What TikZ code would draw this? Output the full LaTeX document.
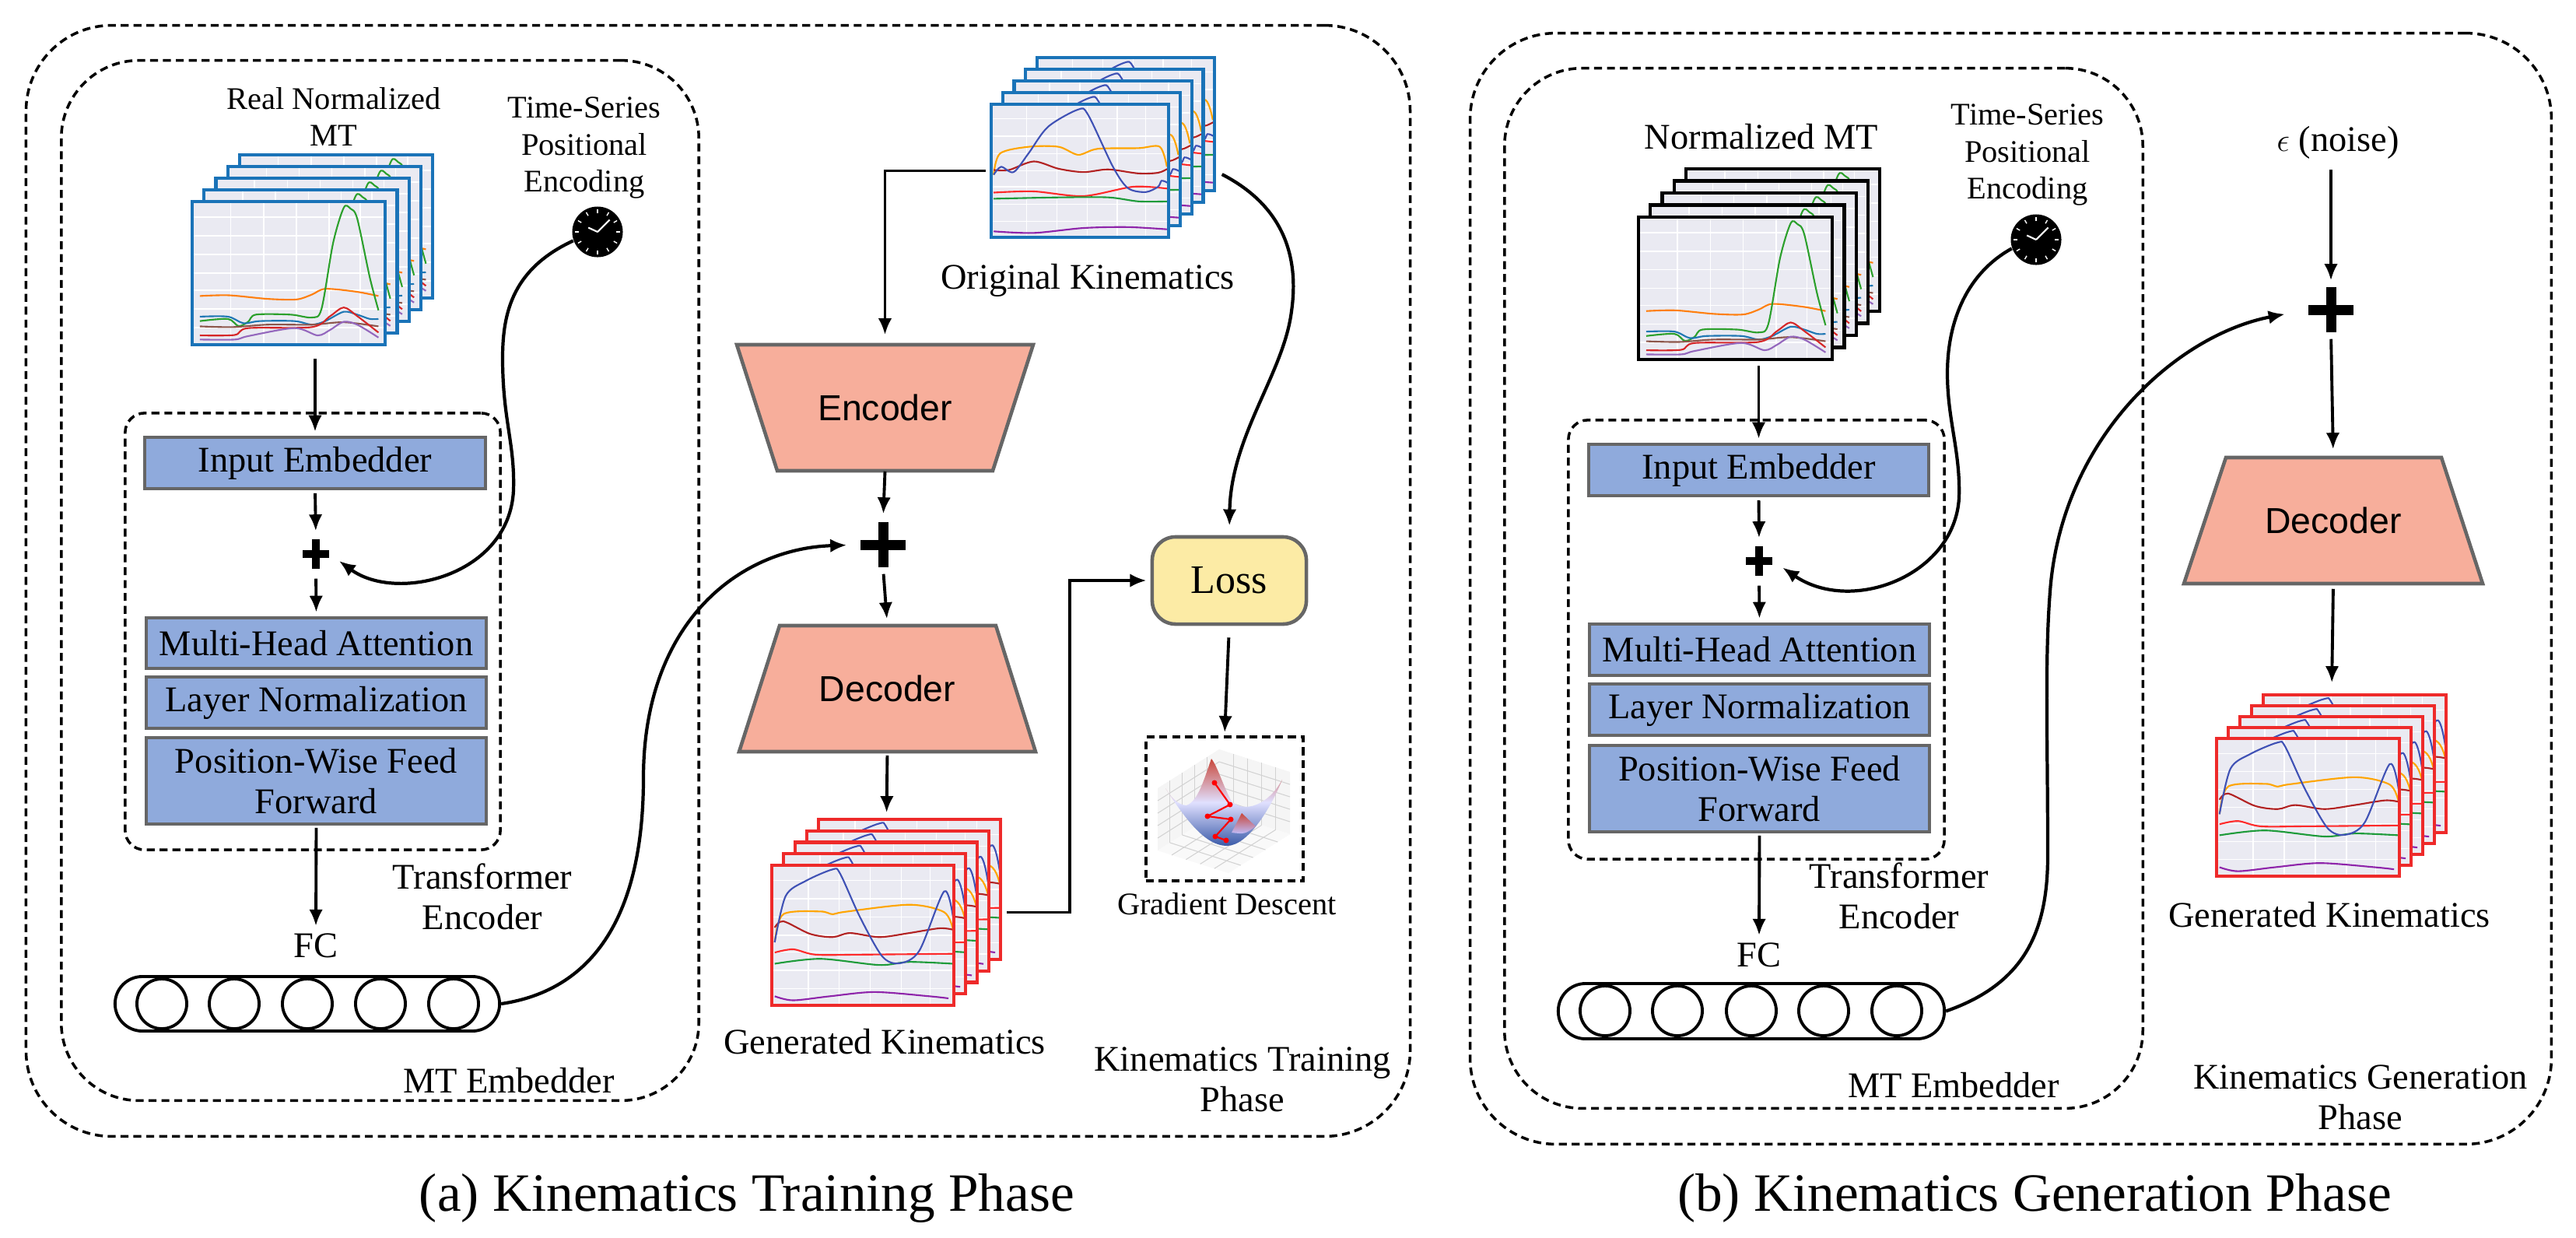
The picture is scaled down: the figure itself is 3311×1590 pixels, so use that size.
\documentclass[tikz,border=0pt]{standalone}
\usepackage{fontspec}
\setmainfont{Liberation Serif}
\newfontfamily\sansf{Liberation Sans}
\usetikzlibrary{arrows.meta,calc}
\definecolor{boxblue}{HTML}{8FAADC}
\definecolor{boxgray}{HTML}{666666}
\definecolor{trapfill}{HTML}{F7AE9B}
\definecolor{lossfill}{HTML}{FCEBA5}
\definecolor{plotbg}{HTML}{EAEAF2}
\definecolor{mtblue}{HTML}{1A73B8}
\definecolor{genred}{HTML}{EE2A2A}
\definecolor{cOr}{HTML}{FF7F0E}
\definecolor{cGr}{HTML}{2CA02C}
\definecolor{cBl}{HTML}{1F77B4}
\definecolor{cBr}{HTML}{8C564B}
\definecolor{cRd}{HTML}{D62728}
\definecolor{cPu}{HTML}{9467BD}
\definecolor{kBl}{HTML}{3F51B5}
\definecolor{kOr}{HTML}{FFA500}
\definecolor{kDr}{HTML}{B22222}
\definecolor{kRd}{HTML}{FF2A2A}
\definecolor{kGr}{HTML}{1E9B3A}
\definecolor{kPu}{HTML}{8E24AA}
\definecolor{gdRed}{HTML}{C8473A}
\definecolor{gdBlue}{HTML}{3B5BA9}
\newcommand\fsMain{\fontsize{13.2pt}{14.8pt}\selectfont}
\newcommand\fsSmall{\fontsize{11.5pt}{13.4pt}\selectfont}
\newcommand\fsCap{\fontsize{19.7pt}{23pt}\selectfont}
\newcommand\fsLoss{\fontsize{14.8pt}{17pt}\selectfont}
\newcommand\plotframe[6]{%
 \begin{scope}[shift={(#1,#2)}, x={(#3cm,0cm)}, y={(0cm,#4cm)}]
  \fill[plotbg] (0,0) rectangle (1,1);
  \foreach \gx in {.2,.37,.54,.71,.87} \draw[white, line width=0.4pt] (\gx,0) -- (\gx,1);
  \foreach \gy in {.12,.25,.38,.5,.63,.76,.89} \draw[white, line width=0.4pt] (0,\gy) -- (1,\gy);
  \begin{scope} \clip (0,0) rectangle (1,1); #6 \end{scope}
  \draw[#5, line width=1.2pt] (0,0) rectangle (1,1);
 \end{scope}}
\newcommand\mtcurves{%
 \draw[cOr, line width=0.6pt] plot[smooth,tension=0.5] coordinates {(.04,.34) (.19,.345) (.39,.32) (.54,.316) (.62,.35) (.69,.39) (.85,.37) (.965,.34)};
 \draw[cGr, line width=0.6pt] plot[smooth,tension=0.5] coordinates {(.04,.165) (.185,.18) (.24,.13) (.29,.16) (.33,.21) (.51,.21) (.62,.19) (.67,.25) (.73,.71) (.785,.956) (.82,.95) (.855,.88) (.92,.47) (.965,.24)};
 \draw[cBl, line width=0.6pt] plot[smooth,tension=0.5] coordinates {(.04,.196) (.185,.196) (.266,.15) (.35,.165) (.53,.165) (.62,.14) (.69,.165) (.785,.23) (.855,.21) (.92,.18) (.965,.18)};
 \draw[cBr, line width=0.6pt] plot[smooth,tension=0.5] coordinates {(.04,.128) (.21,.123) (.39,.14) (.62,.14) (.785,.157) (.965,.128)};
 \draw[cRd, line width=0.6pt] plot[smooth,tension=0.5] coordinates {(.04,.065) (.22,.068) (.29,.116) (.62,.123) (.715,.2) (.785,.26) (.855,.2) (.965,.085)};
 \draw[cPu, line width=0.6pt] plot[smooth,tension=0.5] coordinates {(.04,.036) (.22,.036) (.29,.06) (.53,.116) (.65,.065) (.715,.104) (.785,.16) (.855,.14) (.965,.05)};}
\newcommand\origcurves{%
 \draw[kOr, line width=0.6pt] plot[smooth,tension=0.5] coordinates {(.014,.47) (.05,.63) (.21,.68) (.38,.68) (.49,.62) (.6,.665) (.83,.67) (.95,.68) (.99,.53)};
 \draw[kDr, line width=0.6pt] plot[smooth,tension=0.5] coordinates {(.014,.506) (.1,.506) (.24,.57) (.38,.515) (.52,.49) (.66,.51) (.83,.48) (.94,.485) (.994,.515)};
 \draw[kRd, line width=0.6pt] plot[smooth,tension=0.5] coordinates {(.014,.336) (.24,.345) (.52,.31) (.8,.38) (.994,.366)};
 \draw[kGr, line width=0.6pt] plot[smooth,tension=0.5] coordinates {(.014,.29) (.38,.3) (.66,.3) (.83,.27) (.994,.27)};
 \draw[kPu, line width=0.6pt] plot[smooth,tension=0.5] coordinates {(.014,.045) (.24,.033) (.52,.07) (.77,.077) (.994,.06)};
 \draw[kBl, line width=0.6pt] plot[smooth,tension=0.5] coordinates {(.014,.47) (.056,.53) (.126,.49) (.21,.63) (.32,.83) (.49,.96) (.546,.92) (.686,.53) (.77,.37) (.87,.34) (.94,.38) (.96,.425) (.994,.41)};}
\newcommand\gencurves{%
 \draw[kOr, line width=0.6pt] plot[smooth,tension=0.5] coordinates {(.016,.45) (.063,.65) (.266,.67) (.334,.65) (.4,.667) (.755,.718) (.946,.665) (.995,.54)};
 \draw[kDr, line width=0.6pt] plot[smooth,tension=0.5] coordinates {(.016,.555) (.063,.6) (.21,.51) (.334,.487) (.43,.516) (.59,.487) (.755,.516) (.92,.55) (.995,.54)};
 \draw[kRd, line width=0.6pt] plot[smooth,tension=0.5] coordinates {(.016,.377) (.117,.4) (.24,.362) (.484,.362) (.995,.368)};
 \draw[kGr, line width=0.6pt] plot[smooth,tension=0.5] coordinates {(.016,.297) (.266,.332) (.59,.288) (.755,.31) (.995,.297)};
 \draw[kPu, line width=0.6pt] plot[smooth,tension=0.5] coordinates {(.016,.065) (.117,.036) (.32,.065) (.565,.095) (.864,.065) (.97,.05)};
 \draw[kBl, line width=0.6pt] plot[smooth,tension=0.5] coordinates {(.016,.45) (.076,.78) (.185,.887) (.334,.97) (.375,.94) (.484,.63) (.606,.35) (.7,.3) (.81,.39) (.946,.813) (.995,.63)};}
\newcommand\clockhands[1]{%
 \foreach \a in {0,30,...,330} \draw[white, line width=0.4pt] (#1.center) ++(\a:0.24cm) -- ++(\a:0.05cm);
 \draw[white, line width=0.6pt] (#1.center) -- ++(45:0.22cm);
 \draw[white, line width=0.6pt] (#1.center) -- ++(155:0.13cm);}
\begin{document}
\begin{tikzpicture}[x=0.01cm, y=-0.01cm,
 arr/.style={line width=1.1pt, -{Latex[length=6pt,width=5pt]}, shorten >=1.5pt},
 curv/.style={line width=1.2pt, -{Latex[length=6pt,width=5pt]}},
 dbox/.style={draw, line width=1pt, dash pattern=on 2.9pt off 1.8pt, inner sep=0pt},
 blk/.style={draw=boxgray, fill=boxblue, line width=1.1pt, minimum width=4.37cm, inner sep=0pt, align=center, font=\fsMain},
 lbl/.style={inner sep=1pt, align=center, font=\fsMain},
 slbl/.style={inner sep=1pt, align=center, font=\fsSmall},
 caplbl/.style={inner sep=1pt, font=\fsCap},
 trap/.style={fill=trapfill, draw=boxgray, line width=1.3pt, line join=miter},
 traptxt/.style={inner sep=0pt, font=\sansf\fsMain, minimum height=1.62cm},
 bbx/.style={inner sep=0pt, draw=none},
 clock/.style={circle, fill=black, minimum size=0.65cm, inner sep=0pt},
 neuron/.style={circle, draw, line width=1.1pt, minimum size=0.64cm, inner sep=0pt},
 capsule/.style={draw, line width=1.1pt, rounded corners=0.35cm, minimum width=4.94cm, minimum height=0.70cm, inner sep=0pt},
 lossbox/.style={draw=boxgray, fill=lossfill, line width=1.3pt, rounded corners=0.3cm, minimum width=1.98cm, minimum height=1.12cm, font=\fsLoss},
 plusS/.style={inner sep=0pt, minimum width=0.34cm, minimum height=0.38cm, path picture={\fill[black] ([yshift=-0.05cm]path picture bounding box.west) rectangle ([yshift=0.05cm]path picture bounding box.east); \fill[black] ([xshift=-0.05cm]path picture bounding box.south) rectangle ([xshift=0.05cm]path picture bounding box.north);}},
 plusL/.style={inner sep=0pt, minimum size=0.58cm, path picture={\fill[black] ([yshift=-0.065cm]path picture bounding box.west) rectangle ([yshift=0.065cm]path picture bounding box.east); \fill[black] ([xshift=-0.065cm]path picture bounding box.south) rectangle ([xshift=0.065cm]path picture bounding box.north);}}
]
\useasboundingbox (0,0) rectangle (3311,1590);
\fill[white] (0,0) rectangle (3311,1590);

% ================= (a) =================
\node[dbox, rounded corners=1.1cm, minimum width=17.78cm, minimum height=14.27cm] (outA) at (923,746.5) {};
\node[dbox, rounded corners=1.0cm, minimum width=8.19cm, minimum height=13.36cm] (innA) at (488.5,746) {};
\node[dbox, rounded corners=0.25cm, minimum width=4.82cm, minimum height=5.61cm] (trA) at (402,811.5) {};

\node[slbl] (rnA) at (429,150) {Real Normalized\\MT};
\node[slbl] (tsA) at (751,190) {Time-Series\\Positional\\Encoding};
\node[clock] (clkA) at (768,298) {};
\clockhands{clkA}

\foreach \i in {4,3,2,1,0} {\plotframe{{247+\i*15.25}}{{443-\i*15}}{2.48}{1.84}{mtblue}{\mtcurves}}
\node[bbx, minimum width=3.10cm, minimum height=2.44cm] (mtS) at (402,321) {};

\node[blk, minimum height=0.66cm] (ieA) at (405,595) {Input Embedder};
\node[plusS] (pA) at (406,712) {};
\node[blk, minimum height=0.65cm] (mhaA) at (406.5,826.5) {Multi-Head Attention};
\node[blk, minimum height=0.66cm] (lnA) at (406.5,903) {Layer Normalization};
\node[blk, minimum height=1.11cm] (pwA) at (406.5,1003.5) {Position-Wise Feed\\Forward};
\node[lbl] (teA) at (620,1152) {Transformer\\Encoder};
\node[lbl] (fclA) at (406,1215) {FC};
\node[capsule] (fcbA) at (395,1290) {};
\foreach \cx [count=\k] in {208,301,395,489,583} \node[neuron] (nA\k) at (\cx,1290) {};
\node[lbl] (mteA) at (654,1389) {MT Embedder};

\foreach \i in {4,3,2,1,0} {\plotframe{{1274+\i*14.75}}{{305-\i*15}}{2.28}{1.71}{mtblue}{\origcurves}}
\node[bbx, minimum width=2.87cm, minimum height=2.32cm] (origS) at (1417.5,189) {};
\node[bbx, minimum width=2.28cm, minimum height=1.71cm] (origF) at (1388,219.5) {};
\node[lbl] (okA) at (1398,360) {Original Kinematics};

\filldraw[trap] (947,443) -- (1328,443) -- (1276,605) -- (999,605) -- cycle;
\node[traptxt, minimum width=3.81cm] (encA) at (1137.5,524) {Encoder};
\node[plusL] (pA2) at (1135,700) {};
\filldraw[trap] (1002,804) -- (1280,804) -- (1331,966) -- (950,966) -- cycle;
\node[traptxt, minimum width=3.81cm] (decA) at (1140.5,885) {Decoder};

\foreach \i in {4,3,2,1,0} {\plotframe{{992+\i*15}}{{1292-\i*14.75}}{2.34}{1.80}{genred}{\gencurves}}
\node[bbx, minimum width=2.95cm, minimum height=2.39cm] (genS) at (1139.5,1172.5) {};
\node[lbl] (gkA) at (1137,1339) {Generated Kinematics};

\node[lossbox] (loss) at (1580,746) {Loss};

\node[dbox, minimum width=2.02cm, minimum height=1.85cm] (grad) at (1574,1039.5) {};
\coordinate (gA) at (1488,1013); \coordinate (gB) at (1567,963); \coordinate (gC) at (1567,1043);
\coordinate (gD) at (1488,1093); \coordinate (gE) at (1658,992); \coordinate (gF) at (1658,1072);
\coordinate (gG) at (1579,1122);
\fill[gray!8] (gA) -- (gB) -- (gC) -- (gD) -- cycle;
\fill[gray!8] (gB) -- (gE) -- (gF) -- (gC) -- cycle;
\fill[gray!5] (gD) -- (gC) -- (gF) -- (gG) -- cycle;
\foreach \t in {0.2,0.4,0.6,0.8} {
 \draw[gray!35, line width=0.3pt] ($(gA)!\t!(gB)$) -- ($(gD)!\t!(gC)$);
 \draw[gray!35, line width=0.3pt] ($(gA)!\t!(gD)$) -- ($(gB)!\t!(gC)$);
 \draw[gray!35, line width=0.3pt] ($(gB)!\t!(gE)$) -- ($(gC)!\t!(gF)$);
 \draw[gray!35, line width=0.3pt] ($(gB)!\t!(gC)$) -- ($(gE)!\t!(gF)$);
 \draw[gray!35, line width=0.3pt] ($(gD)!\t!(gC)$) -- ($(gG)!\t!(gF)$);
 \draw[gray!35, line width=0.3pt] ($(gD)!\t!(gG)$) -- ($(gC)!\t!(gF)$);}
\shade[top color=gdRed, bottom color=gdBlue, middle color=blue!12] (1498,1013) .. controls (1525,1055) and (1550,1087) .. (1577,1087) .. controls (1605,1087) and (1635,1035) .. (1648,1002) .. controls (1630,1035) and (1600,1045) .. (1583,1030) .. controls (1572,1010) and (1565,985) .. (1557,975) .. controls (1548,1000) and (1540,1030) .. (1525,1035) .. controls (1515,1035) and (1505,1025) .. cycle;
\shade[top color=gdRed, bottom color=blue!25] (1583,1070) -- (1596,1045) -- (1614,1062) .. controls (1600,1072) .. cycle;
\draw[red, line width=0.6pt] (1561,1006) -- (1581,1034) -- (1552,1049) -- (1582,1053) -- (1562,1075) -- (1576,1080);
\foreach \p in {(1561,1006),(1581,1034),(1552,1049),(1582,1053),(1562,1075),(1576,1080)} \fill[red] \p circle (0.035cm);
\node[slbl] (gdA) at (1577,1162) {Gradient Descent};
\node[lbl] (ktA) at (1597,1387) {Kinematics Training\\Phase};

\node[caplbl] (capA) at (960,1540) {(a) Kinematics Training Phase};

% connectors (a)
\draw[arr, shorten <=0.17cm] (mtS.south -| ieA.north) -- (ieA.north);
\draw[arr, shorten <=0.04cm, shorten >=0.1cm] (ieA.south) -- (pA.north);
\draw[arr, shorten <=0.12cm] (pA.south) -- (mhaA.north);
\draw[arr, shorten <=0.03cm] (pwA.south) -- (fclA.north);
\draw[curv, shorten >=0.15cm] (clkA.200) .. controls (660,345) and (646,400) .. (646,460) .. controls (646,540) and (662,570) .. (660,630) .. controls (655,740) and (510,775) .. (pA.east);
\draw[curv, shorten >=0.17cm] (fcbA.east) .. controls (780,1270) and (827,1150) .. (827,1000) .. controls (827,800) and (950,705) .. (pA2.west);
\draw[arr, shorten <=0.06cm, shorten >=0.12cm] (origF.west) -| (encA.north);
\draw[arr, shorten >=0.1cm] (encA.south) -- (pA2.north);
\draw[arr, shorten <=0.08cm, shorten >=0.08cm] (pA2.south) -- (decA.north);
\draw[arr, shorten <=0.04cm, shorten >=0.08cm] (decA.south) -- (genS.north);
\draw[arr, shorten <=0.06cm] (genS.east) -- ++(87,0) |- (loss.west);
\draw[curv, shorten <=0.1cm, shorten >=0.12cm] (origS.east |- origF.center) .. controls (1650,265) and (1670,330) .. (1660,400) .. controls (1650,480) and (1582,560) .. (loss.north);
\draw[arr, shorten <=0.15cm, shorten >=0.04cm] (loss.south) -- (grad.north);

% ================= (b) =================
\node[dbox, rounded corners=1.1cm, minimum width=13.89cm, minimum height=14.27cm] (outB) at (2584.5,756.5) {};
\node[dbox, rounded corners=1.0cm, minimum width=8.20cm, minimum height=13.36cm] (innB) at (2344,756) {};
\node[dbox, rounded corners=0.25cm, minimum width=4.83cm, minimum height=5.64cm] (trB) at (2257.5,822) {};

\node[lbl] (nmB) at (2264,176) {Normalized MT};
\node[slbl] (tsB) at (2606,199) {Time-Series\\Positional\\Encoding};
\node[clock] (clkB) at (2617,308) {};
\clockhands{clkB}

\foreach \i in {4,3,2,1,0} {\plotframe{{2106+\i*15.25}}{{462-\i*15.5}}{2.49}{1.83}{black}{\mtcurves}}
\node[bbx, minimum width=3.10cm, minimum height=2.45cm] (mtSB) at (2261,339.5) {};

\node[blk, minimum height=0.66cm] (ieB) at (2260.5,604) {Input Embedder};
\node[plusS] (pB) at (2261,721) {};
\node[blk, minimum height=0.66cm] (mhaB) at (2261.5,835) {Multi-Head Attention};
\node[blk, minimum height=0.66cm] (lnB) at (2261.5,912) {Layer Normalization};
\node[blk, minimum height=1.11cm] (pwB) at (2261.5,1013.5) {Position-Wise Feed\\Forward};
\node[lbl] (teB) at (2441,1151) {Transformer\\Encoder};
\node[lbl] (fclB) at (2261,1227) {FC};
\node[capsule, minimum width=4.96cm, minimum height=0.71cm] (fcbB) at (2251,1299.5) {};
\foreach \cx [count=\k] in {2063,2156,2251,2344,2438} \node[neuron] (nB\k) at (\cx,1299) {};
\node[lbl] (mteB) at (2511,1395) {MT Embedder};

\node[lbl] (noise) at (3005,183) {$\epsilon$ (noise)};
\node[plusL] (pB2) at (2996,398) {};
\filldraw[trap] (2861,588) -- (3138,588) -- (3191,750) -- (2807,750) -- cycle;
\node[traptxt, minimum width=3.84cm] (decB) at (2999,669) {Decoder};

\foreach \i in {4,3,2,1,0} {\plotframe{{2849+\i*15}}{{1126-\i*14}}{2.35}{1.77}{genred}{\gencurves}}
\node[bbx, minimum width=2.96cm, minimum height=2.36cm] (genSB) at (2997,1008) {};
\node[lbl] (gkB) at (2994,1176) {Generated Kinematics};
\node[lbl] (kgB) at (3034,1410) {Kinematics Generation\\Phase};

\node[caplbl] (capB) at (2615,1540) {(b) Kinematics Generation Phase};

% connectors (b)
\draw[arr, shorten <=0.07cm] (mtSB.south -| ieB.north) -- (ieB.north);
\draw[arr, shorten <=0.04cm, shorten >=0.1cm] (ieB.south) -- (pB.north);
\draw[arr, shorten <=0.12cm] (pB.south) -- (mhaB.north);
\draw[arr, shorten <=0.03cm] (pwB.south) -- (fclB.north);
\draw[curv, shorten >=0.15cm] (clkB.200) .. controls (2530,350) and (2503,410) .. (2503,480) .. controls (2503,540) and (2520,580) .. (2518,640) .. controls (2512,740) and (2380,790) .. (pB.east);
\draw[curv, shorten >=0.3cm] (fcbB.east) .. controls (2600,1265) and (2632,1200) .. (2632,1100) .. controls (2632,950) and (2628,850) .. (2635,760) .. controls (2650,560) and (2800,430) .. (pB2.west);
\draw[arr, shorten <=0.1cm, shorten >=0.08cm] (noise.south -| pB2.north) -- (pB2.north);
\draw[arr, shorten <=0.08cm, shorten >=0.1cm] (pB2.south) -- (decB.north);
\draw[arr, shorten <=0.06cm, shorten >=0.12cm] (decB.south) -- (genSB.north);
\end{tikzpicture}
\end{document}
